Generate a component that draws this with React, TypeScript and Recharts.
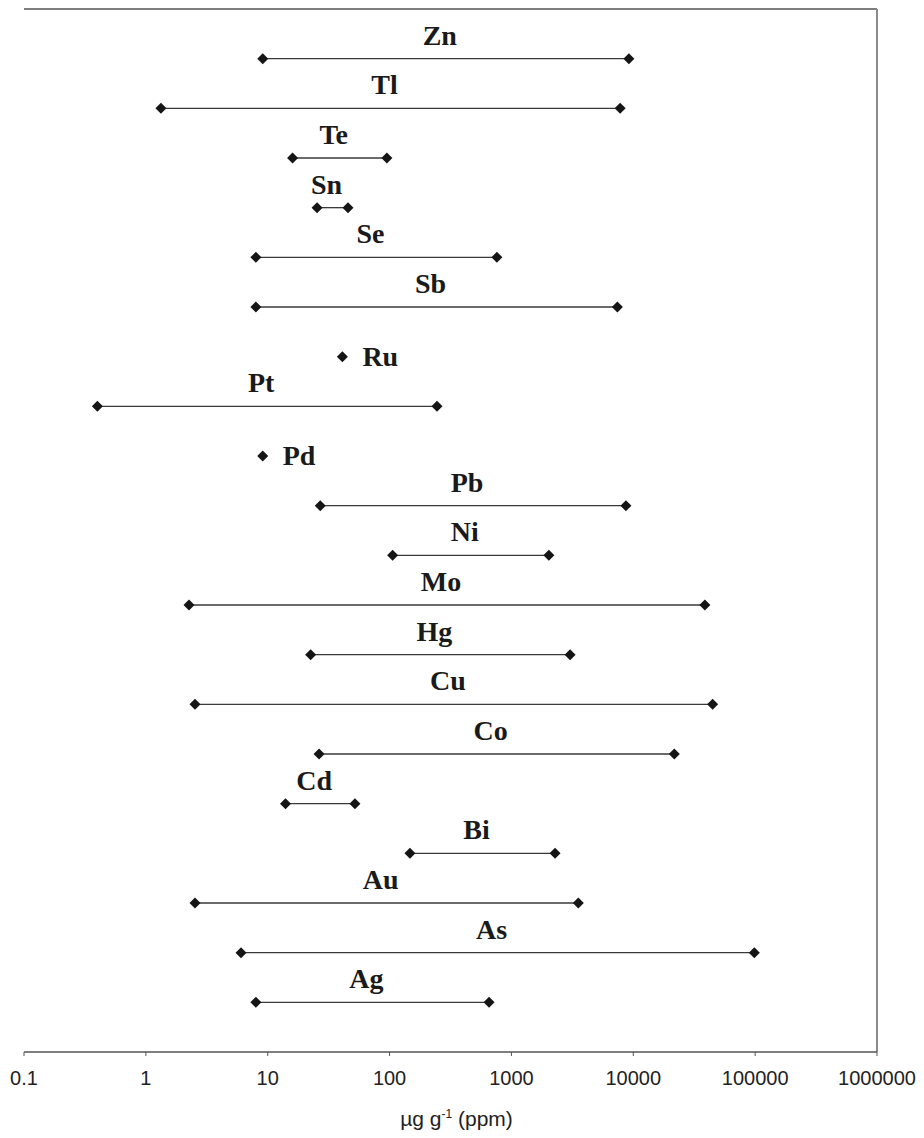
import { ReferenceLine, Scatter, ScatterChart, XAxis, YAxis } from "recharts";

// element ranges, top row first (µg/g)
const elements = [
  "Zn", "Tl", "Te", "Sn", "Se", "Sb", "Ru", "Pt", "Pd", "Pb",
  "Ni", "Mo", "Hg", "Cu", "Co", "Cd", "Bi", "Au", "As", "Ag",
];
const lowValues = [
  9.1, 1.33, 16, 25.4, 8, 8, 41, 0.4, 9.1, 27,
  106, 2.26, 22.5, 2.53, 26.4, 14, 147, 2.53, 6.04, 8,
];
// null = only one value reported
const highValues: (number | null)[] = [
  9200, 7800, 95, 45.6, 760, 7400, null, 245, null, 8700,
  2030, 38700, 3030, 44800, 21700, 52, 2280, 3540, 98400, 655,
];
const xTicks = [0.1, 1, 10, 100, 1000, 10000, 100000, 1000000];

const rowCount = elements.length;

const rows = elements.map((name, i) => ({
  name,
  y: rowCount - i,
  low: lowValues[i],
  high: highValues[i],
}));

const labelData = rows.map((r) => ({
  name: r.name,
  y: r.y,
  single: r.high == null,
  x: r.high == null ? r.low : Math.sqrt(r.low * r.high),
}));

const Diamond = (props: any) => {
  const { cx, cy } = props;
  if (cx == null || cy == null) return null;
  const h = 5.5;
  return (
    <polygon
      points={`${cx - h},${cy} ${cx},${cy - h} ${cx + h},${cy} ${cx},${cy + h}`}
      fill="#151515"
    />
  );
};

const ElementLabel = (props: any) => {
  const { cx, cy, payload } = props;
  if (cx == null || cy == null) return null;
  const common = {
    fontFamily: "'Liberation Serif', 'Times New Roman', serif",
    fontWeight: 700,
    fontSize: 28,
    fill: "#1a1a1a",
  };
  if (payload.single) {
    return (
      <text x={cx + 20} y={cy + 9} textAnchor="start" {...common}>
        {payload.name}
      </text>
    );
  }
  return (
    <text x={cx - 6} y={cy - 14} textAnchor="middle" {...common}>
      {payload.name}
    </text>
  );
};

const AxisTitle = (props: any) => {
  const vb = props.viewBox || {};
  const x = vb.x + vb.width / 2 + 6;
  const y = vb.y + vb.height - 12;
  return (
    <text
      x={x}
      y={y}
      textAnchor="middle"
      fontFamily="'Liberation Sans', Arial, sans-serif"
      fontSize={21}
      fill="#222"
    >
      <tspan>µg g</tspan>
      <tspan fontSize={12} dy={-8}>-1</tspan>
      <tspan dy={8}> (ppm)</tspan>
    </text>
  );
};

export default function App() {
  return (
    <div style={{ position: "absolute", left: 0, top: 0, background: "#fff" }}>
      <ScatterChart
        width={924}
        height={1138}
        margin={{ top: 9, right: 47, left: 24, bottom: 0 }}
      >
        <XAxis
          dataKey="x"
          type="number"
          scale="log"
          domain={[0.1, 1000000]}
          ticks={xTicks}
          allowDataOverflow
          height={86}
          tickSize={4}
          tickMargin={15}
          tickFormatter={(v) => String(v)}
          tick={{
            fontSize: 20,
            fill: "#222",
            fontFamily: "'Liberation Sans', Arial, sans-serif",
          }}
          axisLine={{ stroke: "#555", strokeWidth: 1.5 }}
          tickLine={{ stroke: "#555" }}
          label={<AxisTitle />}
        />
        <YAxis
          dataKey="y"
          type="number"
          domain={[0, rowCount + 1]}
          tick={false}
          tickLine={false}
          width={0}
          axisLine={{ stroke: "#8a8a8a", strokeWidth: 2 }}
        />
        <ReferenceLine y={rowCount + 1} stroke="#555" strokeWidth={1.5} />
        <ReferenceLine x={1000000} stroke="#8a8a8a" strokeWidth={2} />
        {rows.map((r) => (
          <Scatter
            key={r.name}
            data={
              r.high == null
                ? [{ x: r.low, y: r.y }]
                : [
                    { x: r.low, y: r.y },
                    { x: r.high, y: r.y },
                  ]
            }
            line={r.high == null ? false : { stroke: "#3a3a3a", strokeWidth: 1.3 }}
            shape={Diamond}
            isAnimationActive={false}
          />
        ))}
        <Scatter data={labelData} shape={ElementLabel} isAnimationActive={false} />
      </ScatterChart>
    </div>
  );
}
